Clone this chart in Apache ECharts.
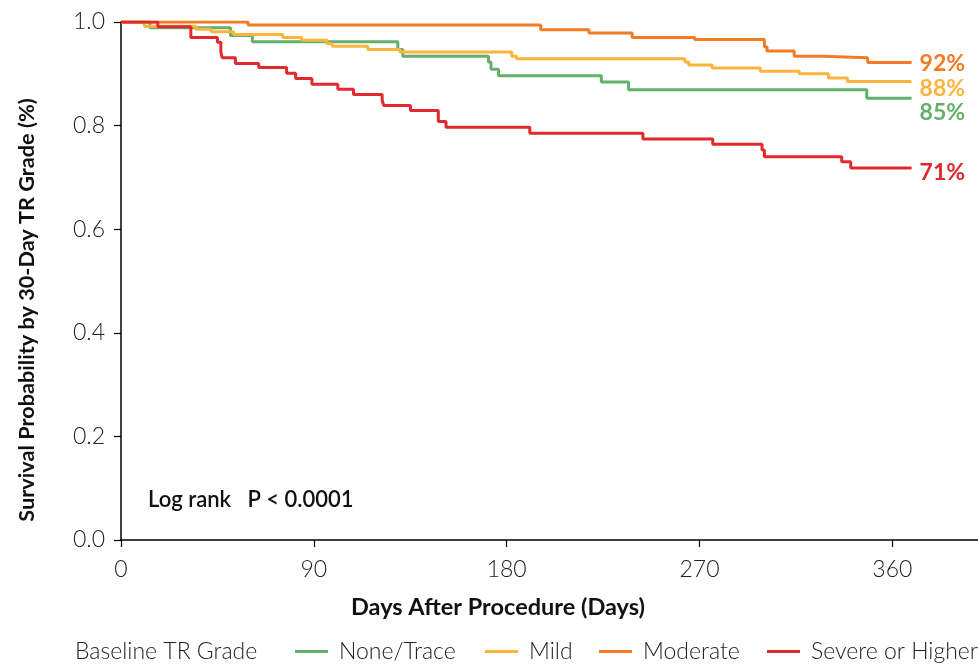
<!DOCTYPE html>
<html>
<head>
<meta charset="utf-8">
<script src="https://cdn.jsdelivr.net/npm/echarts@6/dist/echarts.min.js"></script>
<style>
html,body{margin:0;padding:0;background:#fff;}
#chart{width:978px;height:665px;}
</style>
</head>
<body>
<div id="chart"></div>
<script>
// ---- Data ----
var seriesNames = ['None/Trace', 'Mild', 'Moderate', 'Severe or Higher'];
var endLabels = ['85%', '88%', '92%', '71%'];
var xTicks = [0, 90, 180, 270, 360];
var yTicks = [0.0, 0.2, 0.4, 0.6, 0.8, 1.0];

var noneDays = [0, 13.5, 51.1, 61.3, 129.2, 131.5, 171.5, 172.7, 176.2, 224.2, 236.9, 348.1, 369];
var noneSurv = [1, 0.989, 0.974, 0.962, 0.947, 0.934, 0.923, 0.909, 0.896, 0.884, 0.869, 0.853, 0.853];

var mildDays = [0, 10.9, 34.9, 42.2, 52.6, 75.5, 84.3, 96.2, 98.6, 115.2, 130.2, 182.4, 184.6, 263.2, 265, 275.9, 298.4, 316.6, 330.2, 339.1, 369];
var mildSurv = [1, 0.992, 0.986, 0.981, 0.976, 0.970, 0.965, 0.958, 0.953, 0.947, 0.942, 0.934, 0.929, 0.923, 0.917, 0.911, 0.905, 0.900, 0.892, 0.885, 0.885];

var modDays = [0, 59.3, 195.9, 218.4, 238.6, 267.8, 300.3, 301.5, 314.2, 327.5, 348.5, 369];
var modSurv = [1, 0.994, 0.985, 0.979, 0.970, 0.966, 0.952, 0.944, 0.934, 0.931, 0.922, 0.922];

var sevDays = [0, 17.2, 32.6, 45.0, 46.6, 47.2, 53.4, 64.3, 77.3, 81.5, 89.1, 101.2, 108.5, 121.9, 122.6, 135.1, 148.1, 151.7, 190.8, 243.6, 276.2, 299.2, 300.3, 336.4, 340.6, 369];
var sevSurv = [1, 0.991, 0.970, 0.961, 0.943, 0.931, 0.920, 0.912, 0.901, 0.891, 0.880, 0.870, 0.860, 0.849, 0.839, 0.829, 0.808, 0.797, 0.785, 0.774, 0.764, 0.753, 0.740, 0.730, 0.718, 0.718];

// ---- Styles ----
var colors = ['#63b06a', '#fdb43c', '#f47a24', '#e2292e'];
var labelOffsets = [[0, 14], [0, 7], [0, 1], [0, 5]];
var legendLefts = [295, 485, 599, 767];
var FONT = 'Lato, "Open Sans", sans-serif';

function zip(d, s) { return d.map(function (x, i) { return [x, s[i]]; }); }
var allData = [zip(noneDays, noneSurv), zip(mildDays, mildSurv), zip(modDays, modSurv), zip(sevDays, sevSurv)];

var chart = echarts.init(document.getElementById('chart'), null, {renderer: 'canvas'});

var series = seriesNames.map(function (name, i) {
  return {
    name: name,
    type: 'line',
    step: 'end',
    data: allData[i],
    showSymbol: false,
    symbol: 'none',
    color: colors[i],
    lineStyle: {width: 3, color: colors[i]},
    z: 2 + i,
    endLabel: {
      show: true,
      distance: 8,
      offset: labelOffsets[i],
      formatter: function () { return endLabels[i]; },
      color: colors[i],
      fontFamily: FONT,
      fontWeight: 'bold',
      fontSize: 23
    }
  };
});

var legends = seriesNames.map(function (name, i) {
  return {
    data: [name],
    left: legendLefts[i],
    top: 640,
    padding: 0,
    icon: 'rect',
    itemWidth: 33,
    itemHeight: 3,
    textStyle: {fontFamily: FONT, fontSize: 23, fontWeight: 300, color: '#222', padding: [0, 0, 0, 6]}
  };
});

var option = {
  animation: false,
  backgroundColor: '#fff',
  grid: {left: 121, top: 22, width: 860, height: 518, containLabel: false},
  legend: legends,
  xAxis: {
    type: 'value',
    min: xTicks[0],
    max: 400,
    interval: 90,
    axisLine: {show: true, lineStyle: {color: '#000', width: 1.5}},
    axisTick: {show: true, length: 7, lineStyle: {color: '#000', width: 1.2}},
    axisLabel: {
      showMaxLabel: false,
      margin: 18,
      fontFamily: FONT, fontSize: 23, fontWeight: 300, color: '#222',
      formatter: function (v) { return xTicks.indexOf(v) >= 0 ? String(v) : ''; }
    },
    splitLine: {show: false}
  },
  yAxis: {
    type: 'value',
    min: yTicks[0],
    max: yTicks[yTicks.length - 1],
    interval: 0.2,
    axisLine: {show: true, lineStyle: {color: '#000', width: 1.5}},
    axisTick: {show: true, length: 7, lineStyle: {color: '#000', width: 1.2}},
    axisLabel: {
      margin: 16,
      fontFamily: FONT, fontSize: 23, fontWeight: 300, color: '#222',
      formatter: function (v) { return v.toFixed(1); }
    },
    splitLine: {show: false}
  },
  graphic: [
    {
      type: 'text', x: 27, y: 310, rotation: Math.PI / 2,
      style: {text: 'Survival Probability by 30-Day TR Grade (%)', align: 'center', verticalAlign: 'middle',
        font: 'bold 21.7px ' + FONT, fill: '#111'}
    },
    {
      type: 'text', x: 498, y: 607,
      style: {text: 'Days After Procedure (Days)', align: 'center', verticalAlign: 'middle',
        font: 'bold 23.5px ' + FONT, fill: '#111'}
    },
    {
      type: 'text', x: 148, y: 500,
      style: {text: 'Log rank   P < 0.0001', align: 'left', verticalAlign: 'middle',
        font: '600 22px ' + FONT, fill: '#111'}
    },
    {
      type: 'text', x: 75, y: 652,
      style: {text: 'Baseline TR Grade', align: 'left', verticalAlign: 'middle',
        font: '300 23px ' + FONT, fill: '#222'}
    }
  ],
  series: series
};
chart.setOption(option);
</script>
</body>
</html>
